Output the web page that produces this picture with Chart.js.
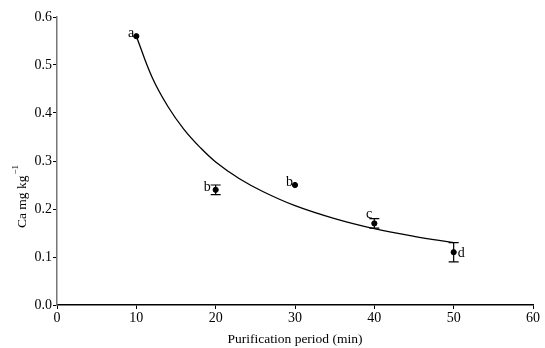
<!DOCTYPE html>
<html>
<head>
<meta charset="utf-8">
<script src="https://cdn.jsdelivr.net/npm/chart.js@4"></script>
<style>
  html, body { margin: 0; padding: 0; background: #fff; }
  #wrap { width: 545px; height: 348px; }
</style>
</head>
<body>
<div id="wrap"><canvas id="chart" width="545" height="348"></canvas></div>
<script>
// measured points (minutes, Ca mg/kg)
const periods = [10, 20, 30, 40, 50];
const caValues = [0.56, 0.24, 0.25, 0.17, 0.11];
const caErrors = [0, 0.01, 0, 0.01, 0.02];
const letters = ["a", "b", "b", "c", "d"];
// fitted curve
const fitX = [10, 12, 14, 16, 18, 20, 23, 26, 30, 35, 40, 45, 50];
const fitY = [0.56, 0.474, 0.413, 0.366, 0.329, 0.298, 0.263, 0.236, 0.207, 0.180, 0.159, 0.143, 0.13];
const xTicks = [0, 10, 20, 30, 40, 50, 60];
const yTicks = [0.0, 0.1, 0.2, 0.3, 0.4, 0.5, 0.6];
const yTitle = "Ca mg kg";
const yTitleSup = "\u22121";

const FONT = "'Liberation Serif', 'Times New Roman', serif";

// where each letter sits relative to its point
const letterPos = ["left", "left", "left", "leftUp", "right"];

const extras = {
  id: "extras",
  afterDatasetsDraw(chart) {
    const { ctx, scales: { x, y } } = chart;
    ctx.save();
    ctx.strokeStyle = "#000";
    ctx.lineWidth = 1.2;
    periods.forEach((p, i) => {
      const e = caErrors[i];
      if (!e) return;
      const px = x.getPixelForValue(p);
      const top = y.getPixelForValue(caValues[i] + e);
      const bot = y.getPixelForValue(caValues[i] - e);
      ctx.beginPath();
      ctx.moveTo(px, top); ctx.lineTo(px, bot);
      ctx.moveTo(px - 5, top); ctx.lineTo(px + 5, top);
      ctx.moveTo(px - 5, bot); ctx.lineTo(px + 5, bot);
      ctx.stroke();
    });
    ctx.fillStyle = "#000";
    ctx.font = "14px " + FONT;
    ctx.textBaseline = "alphabetic";
    periods.forEach((p, i) => {
      const px = x.getPixelForValue(p);
      const py = y.getPixelForValue(caValues[i]);
      const pos = letterPos[i];
      if (pos === "left") {
        ctx.textAlign = "right";
        ctx.fillText(letters[i], px - (caErrors[i] ? 5 : 2), py + 1);
      } else if (pos === "leftUp") {
        ctx.textAlign = "right";
        ctx.fillText(letters[i], px - 2, py - 5);
      } else {
        ctx.textAlign = "left";
        ctx.fillText(letters[i], px + 4, py + 5);
      }
    });
    // y axis title with superscript
    ctx.translate(22, 228);
    ctx.rotate(-Math.PI / 2);
    ctx.textAlign = "left";
    ctx.textBaseline = "middle";
    ctx.font = "13.5px " + FONT;
    ctx.fillText(yTitle, 0, 0);
    const w = ctx.measureText(yTitle).width;
    ctx.font = "9px " + FONT;
    ctx.fillText(yTitleSup, w + 1, -6);
    ctx.restore();
  }
};

new Chart(document.getElementById("chart"), {
  type: "scatter",
  data: {
    datasets: [
      {
        label: "fit",
        type: "line",
        data: fitX.map((v, i) => ({ x: v, y: fitY[i] })),
        borderColor: "#000",
        borderWidth: 1.3,
        pointRadius: 0,
        fill: false,
        tension: 0.4,
        order: 2,
      },
      {
        label: "Ca",
        data: periods.map((v, i) => ({ x: v, y: caValues[i] })),
        backgroundColor: "#000",
        borderColor: "#000",
        pointRadius: 2.6,
        order: 1,
      },
    ],
  },
  options: {
    responsive: false,
    animation: false,
    layout: { padding: { top: 17, right: 12, left: 0, bottom: 0 } },
    plugins: { legend: { display: false }, tooltip: { enabled: false } },
    scales: {
      x: {
        type: "linear",
        min: 0, max: 60,
        afterBuildTicks: s => { s.ticks = xTicks.map(v => ({ value: v })); },
        ticks: { color: "#000", font: { family: FONT, size: 14 }, padding: 1 },
        grid: { drawOnChartArea: false, drawTicks: true, tickLength: 4, color: "#000" },
        border: { color: "#000", width: 1.5 },
        title: { display: true, text: "Purification period (min)", color: "#000", font: { family: FONT, size: 13.5 }, padding: { top: 0, bottom: 0 } },
        afterFit: s => { s.height = 43; },
      },
      y: {
        type: "linear",
        min: 0, max: 0.6,
        afterBuildTicks: s => { s.ticks = yTicks.map(v => ({ value: v })); },
        ticks: { color: "#000", font: { family: FONT, size: 14 }, padding: 1, callback: v => v.toFixed(1) },
        grid: { drawOnChartArea: false, drawTicks: true, tickLength: 4, color: "#000" },
        border: { color: "#777", width: 1.5 },
        afterFit: s => { s.width = 57; },
      },
    },
  },
  plugins: [extras],
});
</script>
</body>
</html>
